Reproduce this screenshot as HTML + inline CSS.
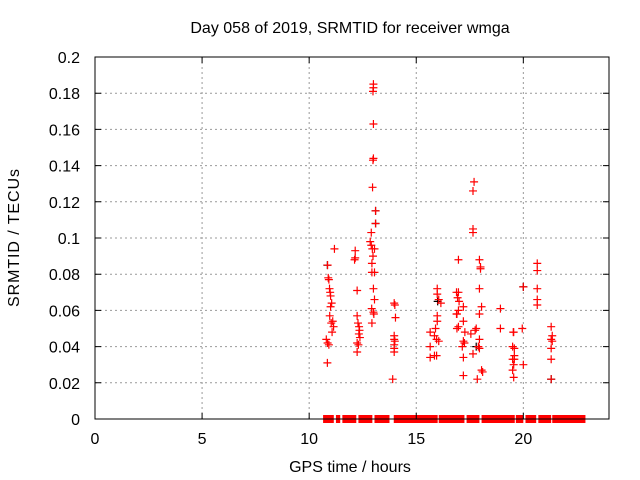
<!DOCTYPE html>
<html><head><meta charset="utf-8"><style>
html,body{margin:0;padding:0;background:#fff}
svg{display:block;font-family:"Liberation Sans",sans-serif}
</style></head><body>
<svg id="chart" width="640" height="480" viewBox="0 0 640 480" xmlns="http://www.w3.org/2000/svg">
<text x="350" y="33" font-size="16" text-anchor="middle">Day 058 of 2019, SRMTID for receiver wmga</text>
<text x="350" y="472" font-size="16" text-anchor="middle">GPS time / hours</text>
<text transform="translate(19,238) rotate(-90)" font-size="16" text-anchor="middle" textLength="138" lengthAdjust="spacing">SRMTID / TECUs</text>
<g id="grid"></g>
<g id="marks"></g>
<g id="axes"></g>
</svg>
<script>
const xTicks=[0,5,10,15,20];
const yTicks=[0,0.02,0.04,0.06,0.08,0.1,0.12,0.14,0.16,0.18,0.2];
const yTickLabels=["0","0.02","0.04","0.06","0.08","0.1","0.12","0.14","0.16","0.18","0.2"];
const redT=[11.18,10.86,10.89,10.92,10.95,10.98,11.0,11.05,11.0,10.96,11.03,11.14,11.07,11.1,10.8,10.86,10.92,10.85,
12.15,12.15,12.12,12.24,12.24,12.28,12.33,12.35,12.32,12.37,12.24,12.3,12.24,
13.0,13.0,12.98,13.0,13.0,12.98,12.96,13.1,13.1,12.9,12.85,12.9,12.95,13.05,12.98,12.93,12.93,13.05,13.0,13.05,12.92,13.0,13.02,12.93,
13.97,14.0,14.03,13.97,13.97,14.0,13.97,13.97,13.97,13.9,
17.7,17.65,17.65,17.65,16.97,17.95,18.0,18.0,20.65,20.65,15.98,15.98,16.05,16.15,16.88,16.97,16.93,17.0,17.95,20.0,20.65,20.65,20.65,17.2,18.05,18.93,15.98,15.98,15.9,16.9,16.88,16.97,17.2,17.95,16.97,16.9,18.93,19.95,
15.65,15.85,15.95,16.05,15.65,17.27,17.55,17.75,17.8,17.2,17.25,17.15,17.95,17.9,17.95,19.53,19.55,19.5,19.58,19.58,19.5,19.55,19.5,19.55,19.58,20.0,
21.3,21.35,21.3,21.35,21.3,21.3,21.3,15.65,15.85,15.95,17.2,17.65,17.2,17.85,18.05,18.1];
const redV=[0.094,0.085,0.078,0.077,0.072,0.070,0.068,0.064,0.062,0.057,0.053,0.051,0.048,0.054,0.044,0.042,0.041,0.031,
0.093,0.089,0.088,0.071,0.057,0.053,0.051,0.049,0.047,0.045,0.042,0.041,0.037,
0.185,0.183,0.181,0.163,0.144,0.143,0.128,0.115,0.108,0.103,0.098,0.096,0.094,0.094,0.090,0.086,0.081,0.081,0.072,0.066,0.061,0.059,0.058,0.053,
0.064,0.063,0.056,0.046,0.044,0.043,0.041,0.039,0.037,0.022,
0.131,0.126,0.105,0.103,0.088,0.088,0.084,0.083,0.086,0.082,0.072,0.069,0.066,0.064,0.070,0.070,0.067,0.065,0.072,0.073,0.072,0.066,0.063,0.062,0.062,0.061,0.057,0.054,0.050,0.058,0.058,0.060,0.054,0.058,0.051,0.050,0.050,0.050,
0.048,0.046,0.044,0.043,0.040,0.048,0.047,0.049,0.050,0.043,0.042,0.040,0.044,0.040,0.039,0.048,0.048,0.040,0.039,0.035,0.033,0.030,0.027,0.023,0.033,0.030,
0.051,0.046,0.044,0.043,0.039,0.033,0.022,0.034,0.035,0.035,0.034,0.036,0.024,0.022,0.027,0.026];
const blackT=[10.85,13.1,13.1,20.0,21.3,16.0,17.8];
const blackV=[0.085,0.115,0.108,0.073,0.022,0.065,0.040];
const zeroStart=[10.65,11.25,11.55,12.3,13.05,13.95,16.05,17.35,18.05,19.65,20.1,20.7,21.35];
const zeroEnd=[11.15,11.45,12.2,12.95,13.75,16.0,17.25,17.95,19.6,20.0,20.6,21.3,22.9];

const X0=95,X1=609,Y0=419,Y1=57,XMAX=24,YMAX=0.2;
const sx=t=>X0+t/XMAX*(X1-X0);
const sy=v=>Y0-v/YMAX*(Y0-Y1);
const NS="http://www.w3.org/2000/svg";
function mk(tag,attrs,parent){const e=document.createElementNS(NS,tag);for(const k in attrs)e.setAttribute(k,attrs[k]);parent.appendChild(e);return e;}
const grid=document.getElementById('grid'),marks=document.getElementById('marks'),axes=document.getElementById('axes');
xTicks.forEach((t,i)=>{
  if(t>0){const g=mk('line',{x1:sx(t),x2:sx(t),y1:Y0,y2:Y1,stroke:'#999','stroke-dasharray':'2,3','stroke-width':1},grid);
  
  }
  const tk=mk('path',{d:`M${sx(t)},${Y0}v-6M${sx(t)},${Y1}v6`,stroke:'#000'},axes);
  
  
  const l=mk('text',{x:sx(t),y:Y0+25,'font-size':16,'text-anchor':'middle'},axes);l.textContent=t;
  
  
});
yTicks.forEach((v,i)=>{
  if(v>0&&v<YMAX){const g=mk('line',{x1:X0,x2:X1,y1:sy(v),y2:sy(v),stroke:'#999','stroke-dasharray':'2,3','stroke-width':1},grid);
  
  }
  const tk=mk('path',{d:`M${X0},${sy(v)}h6M${X1},${sy(v)}h-6`,stroke:'#000'},axes);
  
  
  const l=mk('text',{x:X0-15,y:sy(v)+6,'font-size':16,'text-anchor':'end'},axes);l.textContent=yTickLabels[i];
  
  
});
const fr=mk('rect',{x:X0,y:Y1,width:X1-X0,height:Y0-Y1,fill:'none',stroke:'#000'},axes);


function plus(t,v,c){const p=mk('path',{d:`M${sx(t)-4},${sy(v)}h8M${sx(t)},${sy(v)-4}v8`,stroke:c,'stroke-width':1.2},marks);return p;}
blackT.forEach((t,i)=>{const p=plus(t,blackV[i],'#000');
  
  });
redT.forEach((t,i)=>{const p=plus(t,redV[i],'#f00');
  
  });
zeroStart.forEach((s,i)=>{const r=mk('rect',{x:sx(s),y:Y0-4,width:sx(zeroEnd[i])-sx(s),height:8,fill:'#f00'},marks);
  
  });
</script>
</body></html>
